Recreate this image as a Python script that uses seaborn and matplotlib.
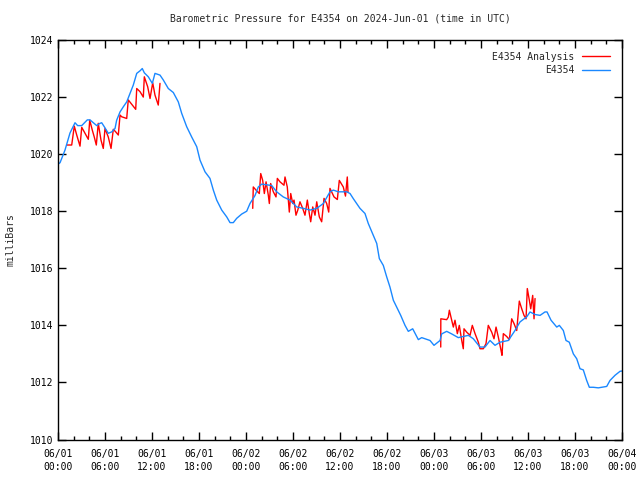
import numpy as np
import pandas as pd
import seaborn as sns
import matplotlib
matplotlib.use("Agg")
import matplotlib.pyplot as plt
import matplotlib.dates as mdates
from matplotlib.lines import Line2D

# station readings, hours since 2024-06-01 00:00 UTC
obs_hours = [0.0, 0.26, 0.89, 1.53, 2.17, 2.51, 3.03, 3.74, 4.09, 4.51, 4.94, 5.36, 5.58,
             5.91, 6.42, 6.86, 7.28, 7.49, 7.92, 8.34, 8.77, 9.19, 9.61, 10.05, 10.47,
             10.76, 11.02, 11.53, 12.04, 12.38, 13.02, 13.44, 14.08, 14.72, 15.36, 15.79,
             16.43, 17.07, 17.71, 18.13, 18.77, 19.40, 19.83, 20.26, 20.90, 21.54, 21.96,
             22.38, 22.81, 23.45, 24.09, 24.51, 25.15, 25.57, 26.01, 27.28, 27.92, 28.76,
             29.62, 30.47, 31.32, 32.17, 33.03, 33.87, 34.72, 35.15, 35.78, 36.86, 37.28,
             37.70, 38.55, 39.19, 39.61, 40.25, 40.69, 41.02, 41.53, 41.96, 42.38, 42.81,
             43.24, 43.75, 44.30, 44.72, 45.28, 46.00, 46.43, 47.49, 48.00, 48.77, 48.98,
             49.62, 50.26, 51.10, 52.38, 53.02, 53.87, 54.51, 55.15, 55.79, 56.43, 57.49,
             58.34, 58.98, 59.84, 60.26, 60.90, 61.54, 62.17, 62.43, 62.94, 63.67, 64.00,
             64.51, 64.85, 65.27, 65.79, 66.22, 66.64, 67.06, 67.49, 67.83, 68.34, 68.98,
             69.41, 70.05, 70.47, 71.11, 71.75, 72.0]
obs_mb = [1019.65, 1019.7, 1020.14, 1020.74, 1021.1, 1021.0, 1021.0, 1021.2, 1021.2,
          1021.1, 1021.0, 1021.08, 1021.1, 1020.96, 1020.73, 1020.78, 1020.9, 1021.19,
          1021.48, 1021.66, 1021.83, 1022.13, 1022.42, 1022.83, 1022.92, 1023.0, 1022.85,
          1022.71, 1022.48, 1022.83, 1022.77, 1022.6, 1022.3, 1022.16, 1021.83, 1021.43,
          1020.96, 1020.6, 1020.26, 1019.79, 1019.38, 1019.15, 1018.74, 1018.39, 1018.04,
          1017.8, 1017.6, 1017.6, 1017.75, 1017.9, 1018.0, 1018.27, 1018.55, 1018.85,
          1018.95, 1018.9, 1018.68, 1018.5, 1018.39, 1018.15, 1018.1, 1018.04, 1018.1,
          1018.27, 1018.68, 1018.74, 1018.68, 1018.68, 1018.62, 1018.44, 1018.1, 1017.92,
          1017.57, 1017.16, 1016.87, 1016.34, 1016.1, 1015.7, 1015.34, 1014.88, 1014.64,
          1014.35, 1014.0, 1013.79, 1013.88, 1013.5, 1013.57, 1013.47, 1013.3, 1013.47,
          1013.7, 1013.79, 1013.7, 1013.57, 1013.65, 1013.53, 1013.24, 1013.24, 1013.47,
          1013.3, 1013.41, 1013.47, 1013.82, 1014.12, 1014.3, 1014.47, 1014.38, 1014.35,
          1014.47, 1014.47, 1014.18, 1013.94, 1014.0, 1013.82, 1013.47, 1013.41, 1013.0,
          1012.83, 1012.48, 1012.44, 1012.07, 1011.83, 1011.83, 1011.81, 1011.83, 1011.86,
          1012.07, 1012.25, 1012.39, 1012.4]

# analysis, three separate runs
ana1_hours = [1.11, 1.75, 2.08, 2.39, 2.81, 3.03, 3.45, 3.87, 4.05, 4.38, 4.63, 4.89, 5.14,
              5.49, 5.78, 6.0, 6.42, 6.77, 7.06, 7.37, 7.70, 7.92, 8.13, 8.77, 8.97, 9.49,
              9.92, 10.05, 10.47, 10.89, 11.02, 11.45, 11.75, 12.09, 12.38, 12.80, 13.02]
ana1_mb = [1020.32, 1020.32, 1020.98, 1020.67, 1020.28, 1020.94, 1020.73, 1020.52, 1021.19,
           1020.84, 1020.6, 1020.32, 1021.08, 1020.49, 1020.2, 1020.9, 1020.6, 1020.2,
           1020.87, 1020.78, 1020.67, 1021.37, 1021.31, 1021.25, 1021.9, 1021.72, 1021.57,
           1022.3, 1022.19, 1022.0, 1022.71, 1022.36, 1021.95, 1022.5, 1022.07, 1021.72,
           1022.48]
ana2_hours = [24.86, 24.93, 25.28, 25.70, 25.88, 26.13, 26.34, 26.56, 26.85, 26.98, 27.15,
              27.49, 27.83, 28.0, 28.34, 28.85, 28.98, 29.27, 29.53, 29.71, 29.96, 30.13,
              30.38, 30.60, 30.89, 31.24, 31.53, 31.83, 32.08, 32.26, 32.52, 32.81, 33.03,
              33.36, 33.66, 33.96, 34.30, 34.56, 34.72, 35.24, 35.66, 35.91, 36.42, 36.70,
              36.93, 37.02]
ana2_mb = [1018.1, 1018.85, 1018.74, 1018.62, 1019.32, 1019.08, 1018.62, 1019.03, 1018.56,
           1018.27, 1018.97, 1018.68, 1018.5, 1019.15, 1019.03, 1018.91, 1019.2, 1018.85,
           1017.97, 1018.62, 1018.27, 1018.39, 1017.86, 1018.03, 1018.33, 1018.1, 1017.86,
           1018.39, 1017.92, 1017.63, 1018.15, 1017.86, 1018.33, 1017.8, 1017.63, 1018.45,
           1018.27, 1017.97, 1018.8, 1018.5, 1018.41, 1019.08, 1018.85, 1018.53, 1019.2,
           1018.67]
ana3_hours = [48.86, 48.87, 49.62, 49.83, 49.96, 50.26, 50.47, 50.68, 50.98, 51.23, 51.54,
              51.74, 51.83, 52.18, 52.60, 52.89, 53.24, 53.66, 53.87, 54.30, 54.64, 54.93,
              55.37, 55.66, 55.92, 56.21, 56.43, 56.56, 56.68, 56.85, 57.28, 57.62, 57.92,
              58.22, 58.56, 58.89, 59.20, 59.49, 59.75, 59.91, 60.17, 60.35, 60.60, 60.77,
              60.90]
ana3_mb = [1013.24, 1014.23, 1014.2, 1014.29, 1014.53, 1014.18, 1013.94, 1014.18, 1013.71,
           1014.0, 1013.47, 1013.18, 1013.88, 1013.76, 1013.65, 1014.0, 1013.71, 1013.41,
           1013.18, 1013.18, 1013.36, 1014.0, 1013.76, 1013.53, 1013.94, 1013.59, 1013.3,
           1013.12, 1012.95, 1013.71, 1013.61, 1013.5, 1014.23, 1014.06, 1013.82, 1014.85,
           1014.58, 1014.35, 1014.23, 1015.29, 1014.88, 1014.58, 1015.05, 1014.23, 1014.94]

start = pd.Timestamp("2024-06-01 00:00")
obs = pd.DataFrame({"time": start + pd.to_timedelta(obs_hours, unit="h"), "mb": obs_mb})
ana = pd.concat([
    pd.DataFrame({"time": start + pd.to_timedelta(h, unit="h"), "mb": v, "seg": i})
    for i, (h, v) in enumerate([(ana1_hours, ana1_mb), (ana2_hours, ana2_mb), (ana3_hours, ana3_mb)])
])

sns.set_style("ticks")
plt.rcParams["font.family"] = ["DejaVu Sans Mono"]
plt.rcParams["font.size"] = 7

red = "#ff0000"
blue = "#1a88ff"

fig = plt.figure(figsize=(6.4, 4.8), dpi=100)
ax = fig.add_axes([58 / 640, 1 - 439.5 / 480, 564 / 640, 399.5 / 480])

sns.lineplot(data=ana, x="time", y="mb", units="seg", estimator=None, color=red, lw=1.0, ax=ax)
sns.lineplot(data=obs, x="time", y="mb", color=blue, lw=1.0, ax=ax)

ax.set_xlim(start, start + pd.Timedelta(hours=72))
ax.set_ylim(1010, 1024)
ax.set_yticks(np.arange(1010, 1025, 2))
ax.xaxis.set_major_locator(mdates.HourLocator(byhour=[0, 6, 12, 18]))
ax.xaxis.set_minor_locator(mdates.HourLocator(byhour=range(0, 24, 2)))
ax.xaxis.set_major_formatter(mdates.DateFormatter("%m/%d\n%H:%M"))
ax.tick_params(which="both", direction="in", top=True, right=True, colors="black", labelsize=7)
ax.tick_params(which="major", length=6, width=1)
ax.tick_params(which="minor", length=3, width=1)
ax.tick_params(axis="x", pad=7)
for lbl in ax.get_xticklabels():
    lbl.set_linespacing(1.4)
for s in ax.spines.values():
    s.set_linewidth(1.0)
    s.set_color("black")

ax.set_xlabel("")
ax.set_ylabel("milliBars", fontsize=7)
ax.yaxis.set_label_coords(-0.076, 0.5)
ax.set_title("Barometric Pressure for E4354 on 2024-Jun-01 (time in UTC)", fontsize=7, pad=13)

handles = [Line2D([], [], color=red, lw=1.0), Line2D([], [], color=blue, lw=1.0)]
ax.legend(handles, ["E4354 Analysis", "E4354"], loc="upper right", frameon=False,
          markerfirst=False, fontsize=7, handlelength=2.9, handletextpad=0.8,
          borderaxespad=0.8, labelspacing=0.35)

fig.savefig("out.png", dpi=100)
